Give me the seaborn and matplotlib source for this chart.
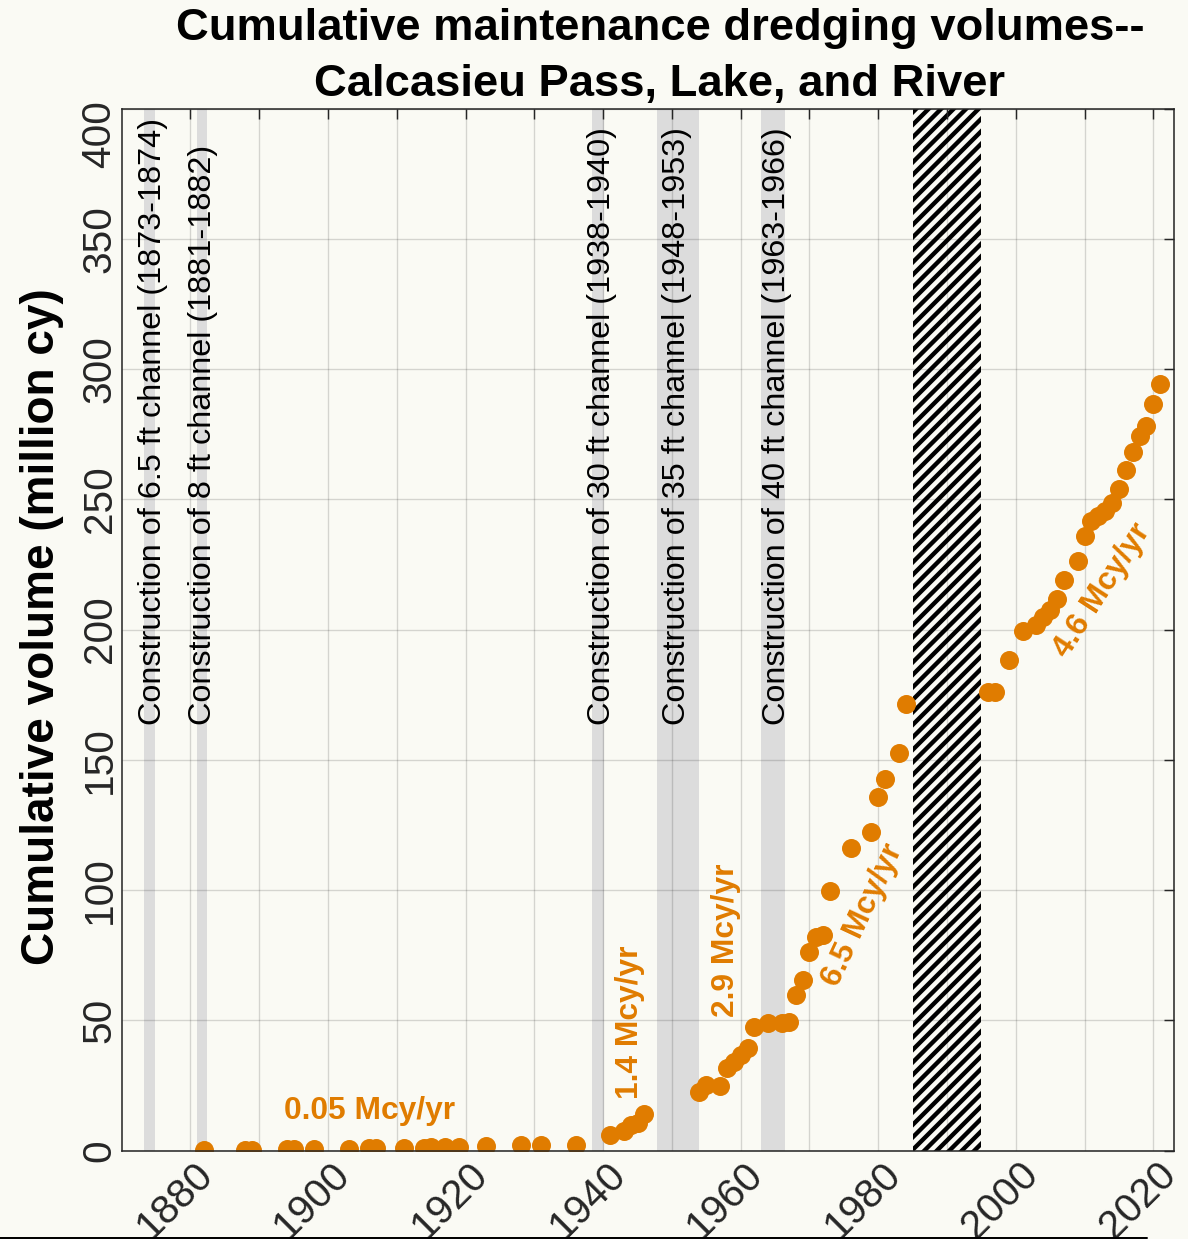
import matplotlib
matplotlib.use("Agg")
import matplotlib.pyplot as plt
import matplotlib.transforms as mtransforms
from matplotlib.lines import Line2D
import seaborn as sns
import pandas as pd

# ---------------- data ----------------
years = [1882, 1888, 1889, 1894, 1895, 1898, 1903, 1906, 1907, 1911, 1914, 1915,
         1917, 1919, 1923, 1928, 1931, 1936,
         1941, 1943, 1944, 1945, 1946,
         1954, 1955, 1957, 1958, 1959, 1960, 1961, 1962, 1964, 1966, 1967,
         1968, 1969, 1970, 1971, 1972, 1973, 1976, 1979, 1980, 1981, 1983, 1984,
         1996, 1997, 1999, 2001, 2003, 2004, 2005, 2006, 2007, 2009, 2010, 2011,
         2012, 2013, 2014, 2015, 2016, 2017, 2018, 2019, 2020, 2021]
cum_volume = [0.1, 0.3, 0.35, 0.5, 0.55, 0.7, 0.8, 0.9, 1.0, 1.1, 1.2, 1.3,
              1.4, 1.5, 1.9, 2.1, 2.2, 2.3,
              6.2, 7.5, 9.8, 10.6, 14.2,
              22.7, 25.2, 24.9, 31.6, 34.2, 36.8, 39.3, 47.6, 48.9, 48.9, 49.3,
              59.8, 65.5, 76.4, 82.2, 82.8, 99.8, 116.1, 122.5, 135.9, 142.6, 152.6, 171.3,
              175.9, 175.9, 188.5, 199.3, 201.9, 204.9, 207.4, 211.8, 219.2, 226.2, 235.8, 241.6,
              243.5, 245.4, 248.4, 253.8, 261.1, 268.1, 274.2, 278.1, 286.4, 294.1]

span_start = [1873.3, 1880.9, 1938.4, 1947.9, 1962.9]
span_end = [1874.8, 1882.4, 1940.1, 1953.9, 1966.5]
span_labels = ["Construction of 6.5 ft channel (1873-1874)",
               "Construction of 8 ft channel (1881-1882)",
               "Construction of 30 ft channel (1938-1940)",
               "Construction of 35 ft channel (1948-1953)",
               "Construction of 40 ft channel (1963-1966)"]
span_label_x = [1874.5, 1881.8, 1939.8, 1950.7, 1965.3]
span_label_y = 163.5

gap_start = 1985
gap_end = 1995

rate_labels = ["0.05 Mcy/yr", "1.4 Mcy/yr", "2.9 Mcy/yr", "6.5 Mcy/yr", "4.6 Mcy/yr"]
rate_x = [1906.1, 1943.9, 1957.9, 1977.7, 2012.6]
rate_y = [15.3, 49.4, 80.6, 90.4, 215.1]
rate_rot = [0, 90, 90, 65, 57]

x_ticks = list(range(1880, 2021, 10))
x_ticklabels = [str(t) if t % 20 == 0 else "" for t in x_ticks]
y_ticks = list(range(0, 401, 50))

title = "Cumulative maintenance dredging volumes--\nCalcasieu Pass, Lake, and River"
ylabel = "Cumulative volume (million cy)"

# ---------------- style ----------------
sns.set_theme(style="white")
BG = "#fafaf4"
ORANGE = "#e07c00"
DARK = "#262626"
plt.rcParams["font.family"] = ["Liberation Sans", "DejaVu Sans"]
plt.rcParams["hatch.linewidth"] = 4.2

DPI = 75
fig = plt.figure(figsize=(1188 / DPI, 1239 / DPI), dpi=DPI, facecolor=BG)
ax = fig.add_axes([121.7 / 1188, 1 - 1150.7 / 1239, (1174 - 121.7) / 1188, (1150.7 - 108.5) / 1239])
ax.set_facecolor(BG)

# construction periods
for s, e in zip(span_start, span_end):
    ax.axvspan(s, e, facecolor="#dcdcdc", edgecolor="none", zorder=1)

# period without data (hatched)
ax.axvspan(gap_start, gap_end, facecolor=BG, edgecolor="black", hatch="//", linewidth=0, zorder=1.5)

df = pd.DataFrame({"year": years, "volume": cum_volume})
sns.scatterplot(data=df, x="year", y="volume", ax=ax, color=ORANGE, s=333,
                linewidth=0, zorder=4, legend=False)

for lbl, x in zip(span_labels, span_label_x):
    ax.text(x, span_label_y, lbl, rotation=90, ha="center", va="bottom",
            fontsize=31.1, color="black", zorder=5)

for lbl, x, y, r in zip(rate_labels, rate_x, rate_y, rate_rot):
    ax.text(x, y, lbl, rotation=r, ha="center", va="center", rotation_mode="anchor",
            fontsize=30.5, fontweight="bold", color=ORANGE, zorder=5)

ax.set_xlim(1870, 2023)
ax.set_ylim(0, 400)
ax.set_xticks(x_ticks)
ax.set_xticklabels(x_ticklabels, rotation=45, ha="right", va="top", rotation_mode="anchor")
ax.set_yticks(y_ticks)
ax.set_yticklabels([str(v) for v in y_ticks], rotation=90, va="center", ha="right")
ax.tick_params(axis="both", direction="in", length=9.6, width=1.4, color=DARK,
               labelsize=39, labelcolor=DARK, top=True, right=True)
ax.tick_params(axis="x", pad=4)
ax.tick_params(axis="y", pad=3)

# fine placement of tick labels
for lab in ax.get_xticklabels():
    lab.set_transform(mtransforms.offset_copy(lab.get_transform(), fig=fig, x=3, y=0, units="dots"))
top_lab = ax.get_yticklabels()[-1]
top_lab.set_va("top")
top_lab.set_transform(mtransforms.offset_copy(top_lab.get_transform(), fig=fig, x=0, y=8, units="dots"))

ax.set_axisbelow(False)
ax.grid(True, color="black", alpha=0.15, linewidth=1.3, zorder=2.5)
for sp in ax.spines.values():
    sp.set_color(DARK)
    sp.set_linewidth(1.5)
    sp.set_zorder(6)

ax.set_xlabel("")
ax.set_ylabel(ylabel, fontsize=44.2, fontweight="bold", color="black")
ax.yaxis.set_label_coords(-0.0548, 0.503)

ax.set_title(title, fontsize=43.5, fontweight="bold", color="black",
             x=0.5115, pad=12, linespacing=1.47)

fig.add_artist(Line2D([0, 1147 / 1188], [1.2 / 1239, 1.2 / 1239], color="black",
                      linewidth=1.9, transform=fig.transFigure))

fig.savefig("out.png", dpi=DPI, facecolor=BG)
